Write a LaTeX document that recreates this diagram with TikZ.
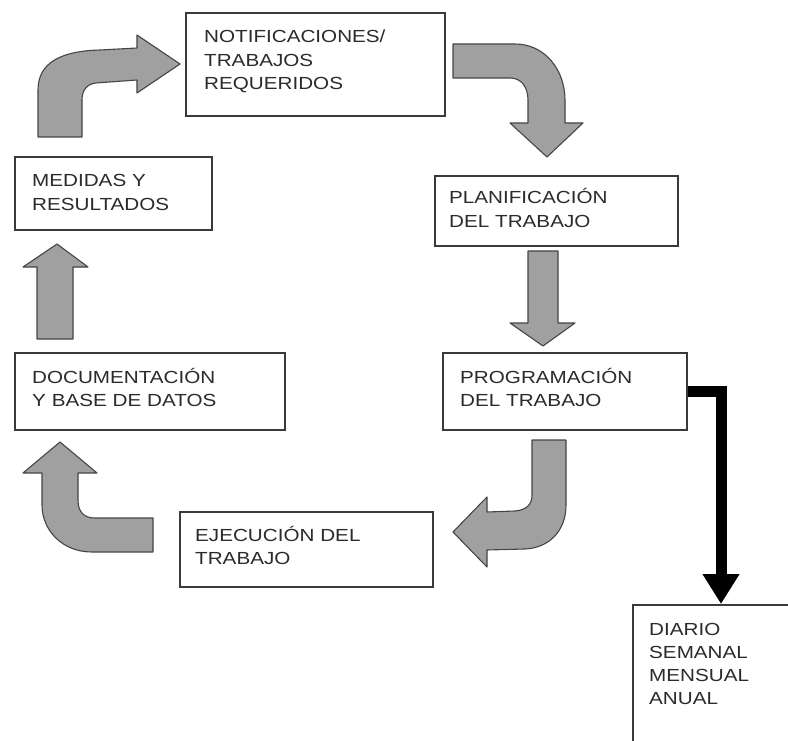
\documentclass[tikz,border=0pt]{standalone}
\usepackage{fontspec}
\setmainfont{Liberation Sans}[FakeStretch=1.18]
\usetikzlibrary{arrows.meta}

\definecolor{boxline}{HTML}{3A3A3A}
\definecolor{arrowfill}{HTML}{A0A0A0}
\definecolor{arrowline}{HTML}{454545}
\definecolor{txt}{HTML}{2B2B2B}

\begin{document}
\begin{tikzpicture}[x=1pt, y=-1pt,
  box/.style={draw=boxline, line width=1.3pt, fill=white, rectangle, inner sep=0pt},
  lbl/.style={anchor=base west, inner sep=0pt, text width=260pt, align=left,
              font=\fontsize{17.5}{23.3}\selectfont, text=txt},
  block/.style={fill=arrowfill, draw=arrowline, line width=1.1pt, line join=round},
  feed/.style={line width=11pt, draw=black, -{Triangle[width=35pt,length=30pt]}}]

\useasboundingbox (0,0) rectangle (788,741);

% process boxes
\node[box, minimum width=259pt, minimum height=103pt] (notif)   at (315.5,64.5) {};
\node[box, minimum width=197pt, minimum height=73pt]  (medidas) at (113.5,193.5) {};
\node[box, minimum width=243pt, minimum height=70pt]  (planif)  at (556.5,211) {};
\node[box, minimum width=270pt, minimum height=77pt]  (docum)   at (150,391.5) {};
\node[box, minimum width=244pt, minimum height=77pt]  (program) at (565,391.5) {};
\node[box, minimum width=253pt, minimum height=75pt]  (ejec)    at (306.5,549.5) {};
\node[inner sep=0pt, minimum width=155pt, minimum height=136pt, anchor=north west]
  (diario) at (633,605) {};
\draw[draw=boxline, line width=1.2pt]
  (diario.south west) -- (diario.north west) -- (diario.north east);

% box labels
\node[lbl] (notif-t)   at (204,43)  {NOTIFICACIONES/\\TRABAJOS\\REQUERIDOS};
\node[lbl] (medidas-t) at (32,187)  {MEDIDAS Y\\RESULTADOS};
\node[lbl] (planif-t)  at (449,204) {PLANIFICACIÓN\\DEL TRABAJO};
\node[lbl] (docum-t)   at (32,383)  {DOCUMENTACIÓN\\Y BASE DE DATOS};
\node[lbl] (program-t) at (460,383) {PROGRAMACIÓN\\DEL TRABAJO};
\node[lbl] (ejec-t)    at (195,541) {EJECUCIÓN DEL\\TRABAJO};
\node[lbl] (diario-t)  at (649,635) {DIARIO\\SEMANAL\\MENSUAL\\ANUAL};

% block arrows of the cycle
% medidas -> notificaciones
\draw[block] (38,137) -- (38,90) .. controls (38,62) and (62,51) .. (100,50)
  -- (137,48) -- (137,35) -- (180,64) -- (137,93) -- (137,80) -- (96,83)
  .. controls (87,84) and (82,90) .. (82,100) -- (82,137) -- cycle;
% notificaciones -> planificacion
\draw[block] (453,44) -- (515,44) .. controls (545,44) and (565,70) .. (565,100)
  -- (565,123) -- (583,123) -- (547,157) -- (510,123) -- (528,123) -- (528,100)
  .. controls (528,88) and (522,78) .. (510,78) -- (453,78) -- cycle;
% planificacion -> programacion
\draw[block] (528,251) -- (558,251) -- (558,323) -- (575,323) -- (543,346)
  -- (510,323) -- (528,323) -- cycle;
% programacion -> ejecucion
\draw[block] (532,440) -- (566,440) -- (566,505) .. controls (566,532) and (548,548) .. (525,549)
  -- (487,550) -- (487,567) -- (453,532) -- (487,497) -- (487,512) -- (515,511)
  .. controls (526,510) and (532,505) .. (532,495) -- cycle;
% ejecucion -> documentacion
\draw[block] (153,518) -- (153,552) -- (92,552) .. controls (62,552) and (42,530) .. (42,505)
  -- (42,473) -- (23,473) -- (60,442) -- (97,473) -- (78,473) -- (78,500)
  .. controls (78,512) and (84,518) .. (95,518) -- cycle;
% documentacion -> medidas
\draw[block] (37,339) -- (73,339) -- (73,267) -- (88,267) -- (57,244) -- (23,267)
  -- (37,267) -- cycle;

% programacion -> periodos
\coordinate (diario-in) at (721,604);
\draw[feed] (program.east) -| (diario-in);
\end{tikzpicture}
\end{document}
